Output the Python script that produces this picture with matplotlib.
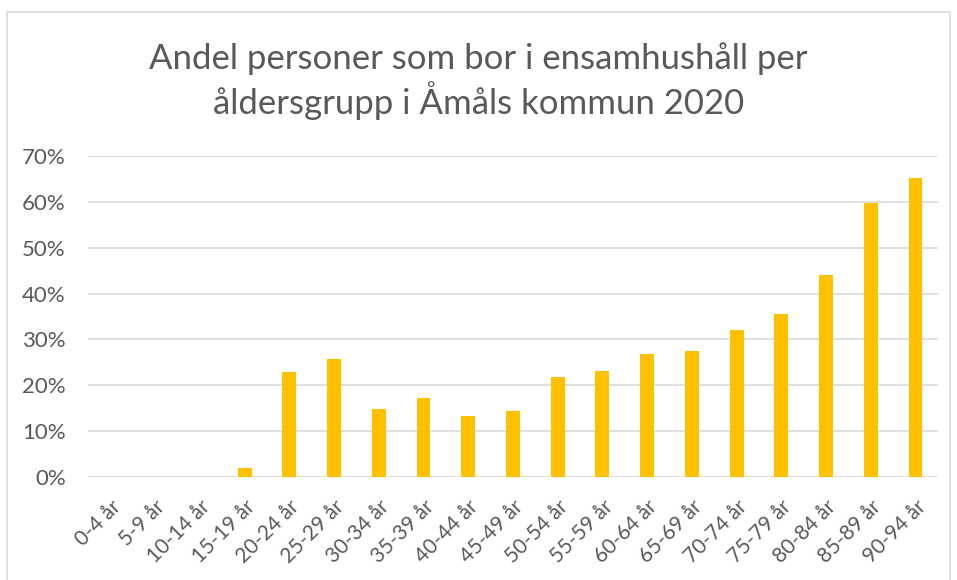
import matplotlib.pyplot as plt
from matplotlib.patches import Rectangle
from matplotlib.ticker import PercentFormatter

plt.rcParams['font.family'] = ['Lato', 'DejaVu Sans']

age_groups = ['0-4 år', '5-9 år', '10-14 år', '15-19 år', '20-24 år', '25-29 år',
              '30-34 år', '35-39 år', '40-44 år', '45-49 år', '50-54 år', '55-59 år',
              '60-64 år', '65-69 år', '70-74 år', '75-79 år', '80-84 år', '85-89 år',
              '90-94 år']
share = [0.0, 0.0, 0.0, 2.0, 22.8, 25.7, 14.8, 17.2, 13.3, 14.5, 21.7, 23.1,
         26.8, 27.5, 32.1, 35.5, 44.0, 59.7, 65.1]
title = 'Andel personer som bor i ensamhushåll per\nåldersgrupp i Åmåls kommun 2020'

text_color = '#595959'

fig = plt.figure(figsize=(9.57, 5.8), dpi=100)
ax = fig.add_axes([0.092, 0.1776, 0.888, 0.5534])

x = range(len(age_groups))
ax.bar(x, share, width=0.31, color='#FFC000', zorder=3)

ax.set_ylim(0, 70)
ax.set_xlim(-0.5, len(age_groups) - 0.5)
ax.set_yticks(range(0, 71, 10))
ax.yaxis.set_major_formatter(PercentFormatter(decimals=0))
ax.grid(axis='y', color='#d9d9d9', linewidth=1.2, zorder=0)
for s in ax.spines.values():
    s.set_visible(False)
ax.tick_params(length=0, colors=text_color)
ax.tick_params(axis='y', pad=16, labelsize=16)
ax.tick_params(axis='x', pad=14, labelsize=15)
ax.set_xticks(list(x))
ax.set_xticklabels(age_groups, rotation=45, ha='right', rotation_mode='anchor')

fig.text(0.5, 0.86, title, ha='center', va='center', fontsize=25,
         color=text_color, linespacing=1.2)

# light outer frame like the chart area border
fig.patches.append(Rectangle((0.007, -0.02), 0.986, 0.999, transform=fig.transFigure,
                             fill=False, edgecolor='#d9d9d9', linewidth=1.2))

fig.savefig('out.png', dpi=100)
